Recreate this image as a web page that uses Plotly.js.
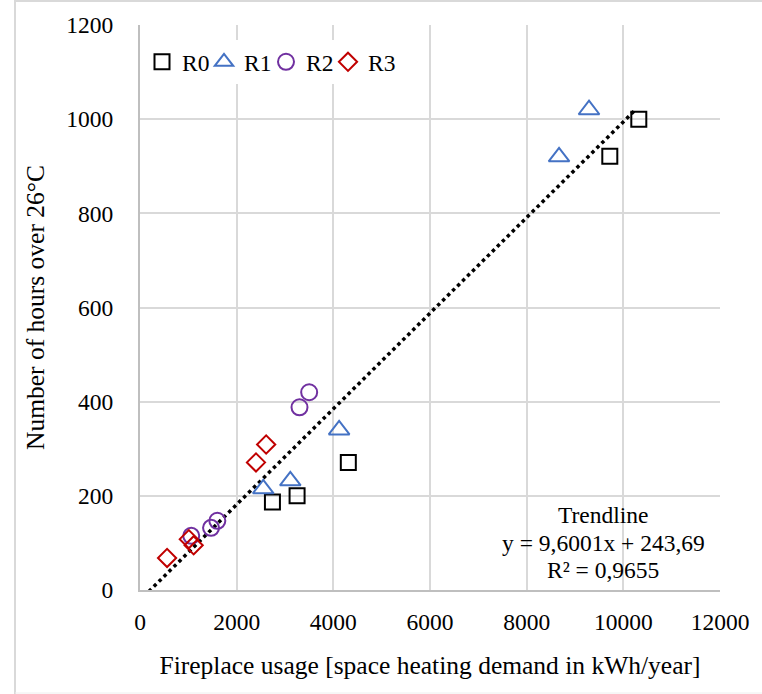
<!DOCTYPE html>
<html><head><meta charset="utf-8">
<script src="https://cdn.plot.ly/plotly-3.0.1.min.js"></script>
<style>
html,body{margin:0;padding:0;background:#fff}
#chart{width:762px;height:694px}
svg text{font-family:serif !important}
</style>
</head><body><div id="chart"></div>
<script>
// ---- data ----
const seriesNames = ['R0', 'R1', 'R2', 'R3'];
const r0X = [10320, 9720, 4310, 3250, 2740];
const r0Y = [1000, 921, 271, 200, 187];
const r1X = [9290, 8670, 4120, 3110, 2550];
const r1Y = [1020, 920, 340, 232, 215];
const r2X = [3500, 3300, 1600, 1470, 1060];
const r2Y = [420, 388, 147, 132, 115];
const r3X = [2610, 2400, 1010, 1110, 560];
const r3Y = [309, 271, 108, 95, 68];
const trendXRange = [80, 10260];
const xTicks = [0, 2000, 4000, 6000, 8000, 10000, 12000];
const yTicks = [0, 200, 400, 600, 800, 1000, 1200];
const trendLabels = ['Trendline', 'y = 9,6001x + 243,69', 'R² = 0,9655'];
const xTitle = 'Fireplace usage [space heating demand in kWh/year]';
const yTitle = 'Number of hours over 26°C';

// ---- least squares trendline over all points ----
const allX = r0X.concat(r1X, r2X, r3X);
const allY = r0Y.concat(r1Y, r2Y, r3Y);
const nPts = allX.length;
const meanX = allX.reduce((a, b) => a + b, 0) / nPts;
const meanY = allY.reduce((a, b) => a + b, 0) / nPts;
let sxy = 0, sxx = 0;
for (let i = 0; i < nPts; i++) { sxy += (allX[i] - meanX) * (allY[i] - meanY); sxx += (allX[i] - meanX) ** 2; }
const slope = sxy / sxx, icpt = meanY - slope * meanX;
const trendY = trendXRange.map(x => slope * x + icpt);

const FONT = 'serif';
const styles = [
  {symbol: 'square-open', color: '#000000', size: 15, lw: 17},
  {symbol: 'triangle-up-open', color: '#4472C4', size: 18, lw: 17},
  {symbol: 'circle-open', color: '#7030A0', size: 16, lw: 17},
  {symbol: 'diamond-open', color: '#C00000', size: 14, lw: 32}
];
const xs = [r0X, r1X, r2X, r3X], ys = [r0Y, r1Y, r2Y, r3Y];

const traces = [{
  x: trendXRange, y: trendY, mode: 'lines', showlegend: false, hoverinfo: 'skip',
  line: {color: '#000000', width: 3.5, dash: 'dot'}
}];
seriesNames.forEach((name, i) => {
  traces.push({
    x: xs[i], y: ys[i], name: name, mode: 'markers', type: 'scatter', legendwidth: styles[i].lw,
    marker: {symbol: styles[i].symbol, size: styles[i].size, color: styles[i].color,
             line: {color: styles[i].color, width: 2}}
  });
});

const ML = 140, MR = 42, MT = 25, MB = 104, PW = 762 - ML - MR, PH = 694 - MT - MB;
const toPX = v => (v - ML) / PW;
const toPY = v => 1 - (v - MT) / PH;
const annY = [515, 543, 570];
const annotations = trendLabels.map((t, i) => ({
  text: t, xref: 'paper', yref: 'paper', x: toPX(603), y: toPY(annY[i]),
  xanchor: 'center', yanchor: 'middle', showarrow: false,
  font: {family: FONT, size: 23.5, color: '#000000'}
}));

const layout = {
  width: 762, height: 694,
  margin: {l: ML, r: MR, t: MT, b: MB, pad: 0},
  paper_bgcolor: '#ffffff', plot_bgcolor: '#ffffff',
  font: {family: FONT, color: '#000000', size: 23.5},
  showlegend: true,
  legend: {orientation: 'h', x: toPX(142), y: toPY(40), xanchor: 'left', yanchor: 'top',
           bgcolor: 'rgba(255,255,255,1)', font: {family: FONT, size: 23.5, color: '#000000'},
           itemwidth: 30, entrywidth: 17, entrywidthmode: 'pixels', tracegroupgap: 0},
  xaxis: {
    range: [0, 12000], tickvals: xTicks, ticktext: xTicks.map(String),
    showgrid: true, gridcolor: '#d9d9d9', gridwidth: 2, zeroline: false,
    showline: true, linecolor: '#bfbfbf', linewidth: 2,
    ticks: '', ticklabelstandoff: 10, tickfont: {family: FONT, size: 23.5, color: '#000000'},
    title: {text: xTitle, font: {family: FONT, size: 25.5, color: '#000000'}, standoff: 22},
    automargin: false, fixedrange: true
  },
  yaxis: {
    range: [0, 1200], tickvals: yTicks, ticktext: yTicks.map(String),
    showgrid: true, gridcolor: '#d9d9d9', gridwidth: 2, zeroline: false,
    showline: true, linecolor: '#bfbfbf', linewidth: 2,
    ticks: '', ticklabelstandoff: 20, tickfont: {family: FONT, size: 23.5, color: '#000000'},
    title: {text: yTitle, font: {family: FONT, size: 25.5, color: '#000000'}, standoff: 14},
    automargin: false, fixedrange: true
  },
  annotations: annotations,
  shapes: [
    {type: 'line', xref: 'paper', yref: 'paper', x0: toPX(15), x1: toPX(15), y0: toPY(0), y1: toPY(694), line: {color: '#d9d9d9', width: 2}},
    {type: 'line', xref: 'paper', yref: 'paper', x0: toPX(15), x1: toPX(762), y0: toPY(1), y1: toPY(1), line: {color: '#d9d9d9', width: 2}},
    {type: 'line', xref: 'paper', yref: 'paper', x0: toPX(15), x1: toPX(762), y0: toPY(693), y1: toPY(693), line: {color: '#eeeeee', width: 1}}
  ]
};
Plotly.newPlot('chart', traces, layout, {displayModeBar: false, staticPlot: true}).then(gd => {
  gd.querySelectorAll('text').forEach(t => t.style.setProperty('font-family', 'serif', 'important'));
});
</script></body></html>
